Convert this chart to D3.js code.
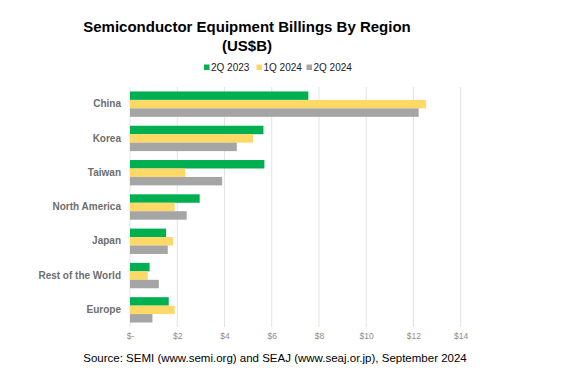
<!DOCTYPE html>
<html>
<head>
<meta charset="utf-8">
<script src="https://cdn.jsdelivr.net/npm/d3@7"></script>
<style>
  body { margin: 0; background: #fff; }
  svg { font-family: "Liberation Sans", Arial, sans-serif; }
</style>
</head>
<body>
<svg id="chart" width="567" height="376"></svg>
<script>
// data
const regions = ["China", "Korea", "Taiwan", "North America", "Japan", "Rest of the World", "Europe"];
const seriesNames = ["2Q 2023", "1Q 2024", "2Q 2024"];
const q2_2023 = [7.55, 5.65, 5.69, 2.95, 1.53, 0.83, 1.64];
const q1_2024 = [12.53, 5.21, 2.34, 1.89, 1.82, 0.75, 1.89];
const q2_2024 = [12.22, 4.52, 3.90, 2.40, 1.60, 1.22, 0.95];
const xTicks = [0, 2, 4, 6, 8, 10, 12, 14];
const colors = ["#00B050", "#FFD966", "#A5A5A5"];

const series = [q2_2023, q1_2024, q2_2024];
let rows = regions.map(function (r, i) {
    return { region: r, values: series.map(function (s) { return s[i]; }) };
});

let chart = d3.select("#chart");

// x scale
let x = d3.scaleLinear()
    .domain([0, 14])
    .range([130, 460.7]);

// y scale
let y = d3.scaleBand()
    .domain(regions)
    .range([87, 327])
    .paddingInner(0.26)
    .paddingOuter(0.13);

let yInner = d3.scaleBand()
    .domain(seriesNames)
    .range([0, y.bandwidth()]);

// gridlines
chart.append("g")
    .selectAll("line")
    .data(xTicks)
    .enter()
    .append("line")
    .attr("x1", function (d) { return x(d); })
    .attr("x2", function (d) { return x(d); })
    .attr("y1", 87)
    .attr("y2", 327)
    .attr("stroke", "#E3E3E3")
    .attr("stroke-width", 1);

// x axis labels
let xAxis = d3.axisBottom(x)
    .tickValues(xTicks)
    .tickSize(0)
    .tickPadding(0)
    .tickFormat(function (d) { return d === 0 ? "$-" : "$" + d; });
let xAxisGroup = chart.append("g")
    .attr("transform", "translate(0,333)")
    .call(xAxis);
xAxisGroup.select(".domain").remove();
xAxisGroup.selectAll("text")
    .attr("fill", "#8C8C8C")
    .style("font-size", "8.5px");

// y axis labels
let yAxis = d3.axisLeft(y).tickSize(0).tickPadding(0);
let yAxisGroup = chart.append("g")
    .attr("transform", "translate(121,0)")
    .call(yAxis);
yAxisGroup.select(".domain").remove();
yAxisGroup.selectAll("text")
    .attr("fill", "#6E6E6E")
    .attr("font-weight", "bold")
    .style("font-size", "10px");

// bars
let groups = chart.selectAll(".grp")
    .data(rows)
    .enter()
    .append("g")
    .attr("class", "grp")
    .attr("transform", function (d) { return "translate(0," + y(d.region) + ")"; });

groups.selectAll("rect")
    .data(function (d) { return d.values.map(function (v, i) { return { name: seriesNames[i], value: v, i: i }; }); })
    .enter()
    .append("rect")
    .attr("x", x(0))
    .attr("y", function (d) { return yInner(d.name); })
    .attr("width", function (d) { return x(d.value) - x(0); })
    .attr("height", yInner.bandwidth())
    .attr("fill", function (d) { return colors[d.i]; });

// title
chart.append("text")
    .text("Semiconductor Equipment Billings By Region")
    .attr("x", 247)
    .attr("y", 32)
    .attr("font-weight", "bold")
    .style("font-size", "15px")
    .style("text-anchor", "middle");
chart.append("text")
    .text("(US$B)")
    .attr("x", 247)
    .attr("y", 51)
    .attr("font-weight", "bold")
    .style("font-size", "15px")
    .style("text-anchor", "middle");

// legend
let legendX = [204, 256.5, 306.5];
seriesNames.forEach(function (name, i) {
    chart.append("rect")
        .attr("x", legendX[i])
        .attr("y", 64.5)
        .attr("width", 5.5)
        .attr("height", 5.5)
        .attr("fill", colors[i]);
    chart.append("text")
        .text(name)
        .attr("x", legendX[i] + 7)
        .attr("y", 71)
        .style("font-size", "10px")
        .attr("fill", "#222");
});

// source
chart.append("text")
    .text("Source: SEMI (www.semi.org) and SEAJ (www.seaj.or.jp), September 2024")
    .attr("x", 275)
    .attr("y", 362)
    .style("font-size", "11.5px")
    .style("text-anchor", "middle");
</script>
</body>
</html>
